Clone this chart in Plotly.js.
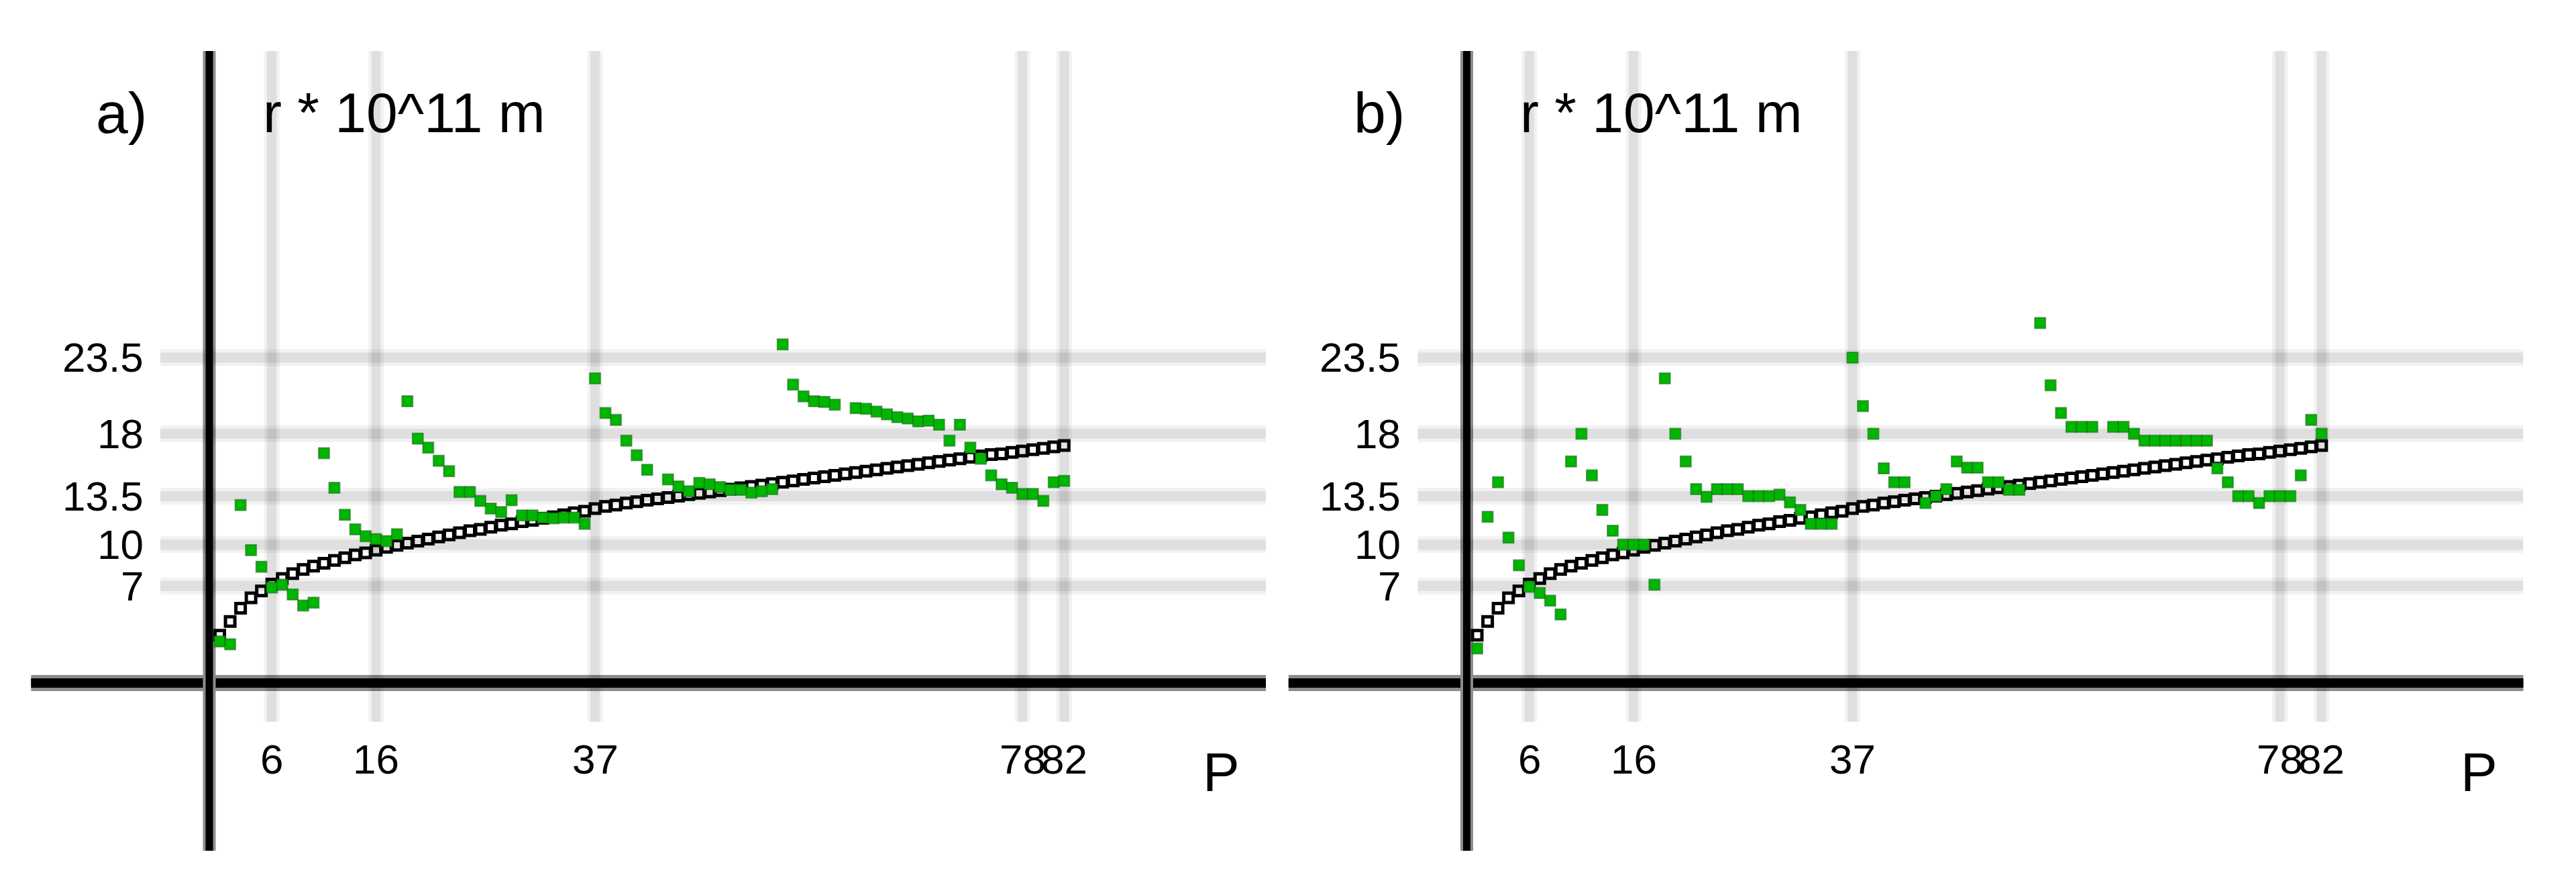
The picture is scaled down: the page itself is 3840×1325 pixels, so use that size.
<!DOCTYPE html>
<html>
<head>
<meta charset="utf-8">
<script src="https://cdn.plot.ly/plotly-3.0.1.min.js"></script>
<style>html,body{margin:0;padding:0;background:#fff}#chart{width:3840px;height:1325px}</style>
</head>
<body>
<div id="chart"></div>
<script>
// ---- data ----
const P = [1,2,3,4,5,6,7,8,9,10,11,12,13,14,15,16,17,18,19,20,21,22,23,24,25,26,27,28,29,30,
  31,32,33,34,35,36,37,38,39,40,41,42,43,44,45,46,47,48,49,50,51,52,53,54,55,56,57,58,59,60,
  61,62,63,64,65,66,67,68,69,70,71,72,73,74,75,76,77,78,79,80,81,82];

// black open squares (smooth model curve), same in both panels
const modelR = [3.45,4.45,5.4,6.15,6.65,7.15,7.55,7.9,8.2,8.45,8.65,8.85,9.05,9.25,9.4,9.6,9.8,9.95,10.1,10.25,
  10.4,10.55,10.7,10.85,11.0,11.1,11.25,11.4,11.5,11.65,11.75,11.9,12.0,12.15,12.3,12.4,12.6,12.75,12.85,13.0,
  13.1,13.2,13.3,13.4,13.5,13.6,13.7,13.8,13.9,14.0,14.1,14.2,14.3,14.4,14.5,14.6,14.7,14.8,14.9,15.0,
  15.1,15.2,15.3,15.4,15.5,15.6,15.7,15.8,15.9,16.0,16.1,16.2,16.3,16.4,16.5,16.55,16.65,16.75,16.85,16.95,
  17.05,17.15];

// green filled squares, panel a)
const radiiA = [3.0,2.8,12.85,9.6,8.4,6.9,7.1,6.4,5.6,5.8,16.6,14.1,12.15,11.1,10.6,10.4,10.25,10.75,20.35,17.65,
  17.0,16.05,15.3,13.8,13.8,13.15,12.6,12.35,13.2,12.1,12.1,11.95,11.9,11.95,11.95,11.5,22.0,19.5,19.0,17.5,
  16.45,15.4,null,14.7,14.2,13.85,14.45,14.35,14.15,13.95,13.95,13.75,13.85,14.0,24.45,21.55,20.7,20.35,20.3,20.1,
  null,19.85,19.8,19.6,19.4,19.2,19.1,18.9,18.95,18.65,17.5,18.65,17.0,16.2,15.0,14.35,14.1,13.65,13.65,13.15,
  14.5,14.6];

// green filled squares, panel b)
const radiiB = [2.5,12.0,14.5,10.5,8.5,6.95,6.5,5.95,4.95,16.0,18.0,15.0,12.5,11.0,10.0,10.0,10.0,7.1,22.0,18.0,
  16.0,14.0,13.45,14.0,14.0,14.0,13.5,13.5,13.5,13.6,13.05,12.5,11.5,11.5,11.5,null,23.5,20.0,18.0,15.5,
  14.5,14.5,null,13.0,13.5,14.0,16.0,15.55,15.55,14.5,14.5,13.95,13.95,null,26.0,21.5,19.5,18.5,18.5,18.5,
  null,18.5,18.5,18.0,17.5,17.5,17.5,17.5,17.5,17.5,17.5,15.5,14.5,13.5,13.5,13.0,13.5,13.5,13.5,15.0,
  19.0,18.0];

const yTicks = [7, 10, 13.5, 18, 23.5];
const yTickText = ['7', '10', '13.5', '18', '23.5'];
const xTicks = [6, 16, 37, 78, 82];
const xTickText = ['6', '16', '37', '78', '82'];
const panelLabels = ['a)', 'b)'];
const yTitle = 'r * 10^11 m';
const xTitle = 'P';

// ---- layout constants ----
const FONT = 'Liberation Sans, Arial, sans-serif';
const X_RANGE = [-17.1, 101.35];
const Y_RANGE = [-12.11, 45.64];
const Y_DOMAIN = [0.04302, 0.94264];
const X_DOMAINS = [[0.01205, 0.49141], [0.50020, 0.97956]];
const GRID_X_START = -4.7;
const GRID_Y_START = -2.8;

const series = [radiiA, radiiB];
const traces = [];
const shapes = [];
const annotations = [];

series.forEach((greenVals, i) => {
  const xa = i === 0 ? 'x' : 'x2';
  const ya = i === 0 ? 'y' : 'y2';

  traces.push({
    type: 'scatter', mode: 'markers', x: P, y: modelR, xaxis: xa, yaxis: ya,
    marker: {symbol: 'square-open', size: 14, color: '#000', line: {width: 5, color: '#000'}},
    hoverinfo: 'x+y', showlegend: false
  });
  traces.push({
    type: 'scatter', mode: 'markers', x: P, y: greenVals, xaxis: xa, yaxis: ya,
    marker: {symbol: 'square', size: 16, color: 'rgb(0,182,0)', line: {width: 2, color: 'rgba(30,100,30,0.55)'}},
    hoverinfo: 'x+y', showlegend: false
  });

  // grid bands
  yTicks.forEach(v => {
    shapes.push({type: 'line', layer: 'below', xref: xa, yref: ya, x0: GRID_X_START, x1: X_RANGE[1], y0: v, y1: v,
      line: {color: 'rgba(0,0,0,0.05)', width: 25}});
    shapes.push({type: 'line', layer: 'below', xref: xa, yref: ya, x0: GRID_X_START, x1: X_RANGE[1], y0: v, y1: v,
      line: {color: 'rgba(0,0,0,0.08)', width: 15}});
  });
  xTicks.forEach(v => {
    shapes.push({type: 'line', layer: 'below', xref: xa, yref: ya, x0: v, x1: v, y0: GRID_Y_START, y1: Y_RANGE[1],
      line: {color: 'rgba(0,0,0,0.05)', width: 23}});
    shapes.push({type: 'line', layer: 'below', xref: xa, yref: ya, x0: v, x1: v, y0: GRID_Y_START, y1: Y_RANGE[1],
      line: {color: 'rgba(0,0,0,0.08)', width: 14}});
  });
  // axis lines through the origin
  shapes.push({type: 'line', layer: 'below', xref: xa + ' domain', yref: ya, x0: 0, x1: 1, y0: 0, y1: 0,
    line: {color: '#8c8c8c', width: 24}});
  shapes.push({type: 'line', layer: 'below', xref: xa + ' domain', yref: ya, x0: 0, x1: 1, y0: 0, y1: 0,
    line: {color: '#000', width: 14}});
  shapes.push({type: 'line', layer: 'below', xref: xa, yref: ya + ' domain', x0: 0, x1: 0, y0: 0, y1: 1,
    line: {color: '#8c8c8c', width: 19}});
  shapes.push({type: 'line', layer: 'below', xref: xa, yref: ya + ' domain', x0: 0, x1: 0, y0: 0, y1: 1,
    line: {color: '#000', width: 11}});

  // tick labels
  yTicks.forEach((v, k) => {
    annotations.push({xref: xa, yref: ya, x: -6.2, y: v, xanchor: 'right', yanchor: 'middle', showarrow: false,
      text: yTickText[k], font: {family: FONT, size: 62, color: '#000'}});
  });
  xTicks.forEach((v, k) => {
    annotations.push({xref: xa, yref: ya, x: v, y: -5.5, xanchor: 'center', yanchor: 'middle', showarrow: false,
      text: xTickText[k], font: {family: FONT, size: 62, color: '#000'}});
  });
  // titles
  annotations.push({xref: xa, yref: ya, x: 5.0, y: 41.2, xanchor: 'left', yanchor: 'middle', showarrow: false,
    text: yTitle, font: {family: FONT, size: 84, color: '#000'}});
  annotations.push({xref: xa, yref: ya, x: -8.4, y: 41.2, xanchor: 'center', yanchor: 'middle', showarrow: false,
    text: panelLabels[i], font: {family: FONT, size: 86, color: '#000'}});
  annotations.push({xref: xa, yref: ya, x: 97.1, y: -6.4, xanchor: 'center', yanchor: 'middle', showarrow: false,
    text: xTitle, font: {family: FONT, size: 82, color: '#000'}});
});

const axisBase = {showgrid: false, zeroline: false, showticklabels: false, showline: false, ticks: '', fixedrange: true};

const layout = {
  width: 3840, height: 1325,
  margin: {l: 0, r: 0, t: 0, b: 0},
  paper_bgcolor: '#fff', plot_bgcolor: 'rgba(0,0,0,0)',
  showlegend: false,
  xaxis: Object.assign({}, axisBase, {domain: X_DOMAINS[0], range: X_RANGE, anchor: 'y'}),
  yaxis: Object.assign({}, axisBase, {domain: Y_DOMAIN, range: Y_RANGE, anchor: 'x'}),
  xaxis2: Object.assign({}, axisBase, {domain: X_DOMAINS[1], range: X_RANGE, anchor: 'y2'}),
  yaxis2: Object.assign({}, axisBase, {domain: Y_DOMAIN, range: Y_RANGE, anchor: 'x2'}),
  shapes: shapes,
  annotations: annotations,
  font: {family: FONT}
};

Plotly.newPlot('chart', traces, layout, {staticPlot: true, displayModeBar: false});
</script>
</body>
</html>
